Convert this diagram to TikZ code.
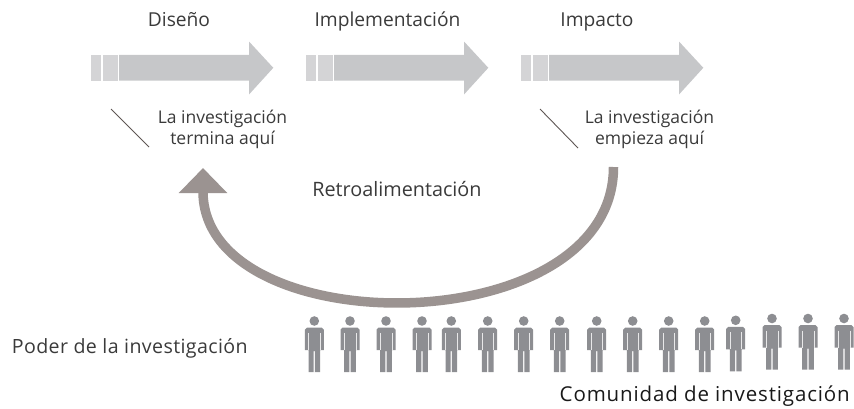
\documentclass[tikz,border=0pt]{standalone}
\usepackage{fontspec}
\setmainfont{Open Sans}
\usetikzlibrary{arrows.meta}
\definecolor{blocklight}{HTML}{D4D4D6}
\definecolor{blockmain}{HTML}{C6C7C9}
\definecolor{fbcol}{HTML}{9B9391}
\definecolor{personcol}{HTML}{8D8E92}
\definecolor{txtcol}{HTML}{3A3A3A}
\definecolor{slashcol}{HTML}{5E5654}
\tikzset{
  title/.style={anchor=base, text=txtcol, inner sep=0pt, font=\fontsize{19.2}{22}\selectfont},
  label/.style={anchor=center, align=center, text=txtcol, inner sep=0pt, font=\fontsize{17.5}{21}\selectfont},
  slash/.style={draw=slashcol, line width=0.9pt},
  feedback/.style={draw=fbcol, line width=9.5pt, -{Triangle[length=25pt,width=47pt]}},
  person/.pic={
    \fill[personcol] (0,0) circle (4.8);
    \fill[personcol] (-9.5,29) -- (-9.5,8.7) -- (-7.3,6.5) -- (7.3,6.5) -- (9.5,8.7) -- (9.5,29)
       -- (5.8,29) -- (5.8,51) -- (0.6,51) -- (0.6,30) -- (-0.6,30) -- (-0.6,51) -- (-5.8,51) -- (-5.8,29) -- cycle;
    \draw[white!80!personcol, line width=0.5pt] (-5.8,12) -- (-5.8,29) (5.8,12) -- (5.8,29);
  }
}
\begin{document}
\begin{tikzpicture}[x=1pt,y=-1pt]
\useasboundingbox (0,0) rectangle (854,408);
% block arrows
\foreach \i/\n in {0/dis,1/imp,2/ipc}{
  \begin{scope}[xshift=\i*215pt]
    \fill[blocklight] (91,54.8) rectangle (100.8,80.7);
    \fill[blocklight] (102.7,54.8) rectangle (117.6,80.7);
    \fill[blockmain] (119.2,54.8) -- (249,54.8) -- (249,41.5) -- (273.3,67.8) -- (249,94.5) -- (249,80.7) -- (119.2,80.7) -- cycle;
    \coordinate (\n) at (182,67.8);
  \end{scope}
}
% titles
\node[title] (tdis) at (179,26.7) {Diseño};
\node[title] (timp) at (387.5,26.7) {Implementación};
\node[title] (tipc) at (597,26.7) {Impacto};
% labels
\node[label] (lend) at (222.5,129) {La investigación\\termina aquí};
\node[label] (lstart) at (649.5,129) {La investigación\\empieza aquí};
\coordinate (s1a) at (111,109); \coordinate (s1b) at (149,147);
\coordinate (s2a) at (540,109); \coordinate (s2b) at (578,148);
\draw[slash] (s1a) -- (s1b);
\draw[slash] (s2a) -- (s2b);
% feedback
\coordinate (fbs) at (613.5,167);
\coordinate (fbe) at (203,168);
\draw[feedback] (fbs) .. controls (613.5,344) and (203,344) .. (fbe);
\node[anchor=base, text=txtcol, inner sep=0pt, font=\fontsize{19.8}{23}\selectfont] (retro) at (397,196.7) {Retroalimentación};
% people
\foreach \px/\py [count=\k] in {314.3/321,350/321,386/321,422/321,451.3/321,487.7/321,523.7/321,559.7/321,
  596.7/321,632.7/321,668.7/321,704.7/321,735.7/320.3,772/318.5,808/318.5,844/318.5}{
  \pic (p\k) at (\px,\py) {person};
}
\node[anchor=base west, text=txtcol, inner sep=0pt, font=\fontsize{19.6}{22}\selectfont\addfontfeatures{LetterSpace=2}] (poder) at (11.7,353.3) {Poder de la investigación};
\node[anchor=base east, text=black!90, inner sep=0pt, font=\fontsize{20.5}{23}\selectfont\addfontfeatures{LetterSpace=4.2}] (comu) at (850,401) {Comunidad de investigación};
\end{tikzpicture}
\end{document}
